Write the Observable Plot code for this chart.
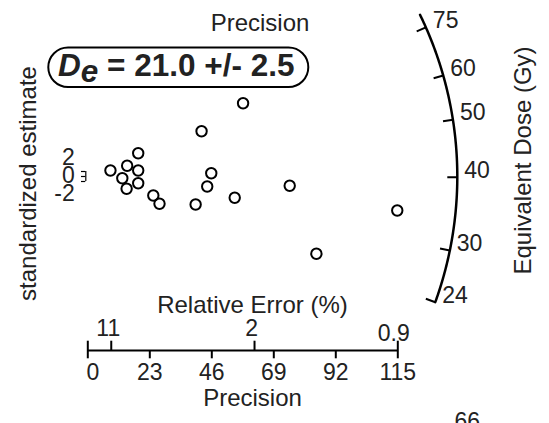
<!DOCTYPE html>
<html><head><meta charset="utf-8">
<script src="https://cdn.jsdelivr.net/npm/d3@7"></script>
<script src="https://cdn.jsdelivr.net/npm/@observablehq/plot@0.6"></script>
<style>
html,body{margin:0;padding:0;background:#fff;}
#chart{width:549px;height:423px;overflow:hidden;}
</style></head><body><div id="chart"></div>
<script>
// ---------- data ----------
const precision   = [57.6, 42.2, 18.7, 14.6, 8.4, 18.7, 12.8, 18.7, 14.4, 24.3, 26.6, 40.0, 45.8, 44.3, 54.5, 74.9, 114.8, 84.8];
const stdEstimate = [29.3, 18.1, 9.3, 4.3, 2.4, 2.4, -0.7, -2.7, -4.9, -7.6, -10.9, -11.2, 1.3, -4.0, -8.5, -3.7, -13.6, -30.9];
const precisionTicks = [0, 23, 46, 69, 92, 115];
const relErrTickPrecision = [8.7, 61.85, 115];
const relErrLabels = ["11", "2", "0.9"];
const stdTicks = [-2, 0, 2];
const doseTicks = [24, 30, 40, 50, 60, 75];
const doseArcLimits = [24, 80];
const centralDose = 21.0;
const centralDoseError = 2.5;

// ---------- layout ----------
const W = 549, H = 423;
const M = {left: 87.3, right: 151.7, top: 0, bottom: 73};
const xDomain = d3.extent(precisionTicks);
const yDomain = [-69.6, 70.4];
const sx = (W - M.left - M.right) / (xDomain[1] - xDomain[0]);
const sy = (H - M.top - M.bottom) / (yDomain[1] - yDomain[0]);
const arcRadius = 369.5, zSlope = 0.7047, zCentre = Math.log(40.1);
function arcPt(v, r) {
  const t = Math.atan(zSlope * (Math.log(v) - zCentre));
  return {x: r * Math.cos(t) / sx, y: r * Math.sin(t) / sy};
}
const yBase = yDomain[0];
const points = precision.map((p, i) => ({x: p, y: stdEstimate[i]}));
const lnA = Math.log(doseArcLimits[0]), lnB = Math.log(doseArcLimits[1]);
const arcLine = d3.range(201).map(i => arcPt(Math.exp(lnA + (lnB - lnA) * i / 200), arcRadius));
const FS = 23, FT = 24, TXT = "#222";
const upTicks = [xDomain[0], ...relErrTickPrecision];

const chart = Plot.plot({
  width: W, height: H,
  marginLeft: M.left, marginRight: M.right, marginTop: M.top, marginBottom: M.bottom,
  x: {domain: xDomain, axis: null},
  y: {domain: yDomain, axis: null},
  style: {fontFamily: "'Liberation Sans', Arial, sans-serif", fontSize: FS + "px", background: "#fff", overflow: "visible"},
  marks: [
    // data points
    Plot.dot(points, {x: "x", y: "y", r: 5.2, stroke: "#000", strokeWidth: 2, fill: "none"}),
    // standardized estimate axis
    Plot.ruleX([xDomain[0]], {y1: d3.min(stdTicks), y2: d3.max(stdTicks), dx: -2, stroke: "#000", strokeWidth: 1.2}),
    Plot.ruleY(stdTicks, {y: d => d, x1: -1.6, x2: 0, dx: -2, stroke: "#000", strokeWidth: 1.2}),
    Plot.text(stdTicks, {x: xDomain[0], y: d => d * 3.6, text: d => String(d), textAnchor: "end", lineAnchor: "middle", dx: -13, dy: -1.2, fill: TXT, fontSize: FS}),
    // dose arc
    Plot.line(arcLine, {x: "x", y: "y", stroke: "#000", strokeWidth: 2.5}),
    Plot.link(doseTicks, {x1: v => arcPt(v, arcRadius).x, y1: v => arcPt(v, arcRadius).y,
                          x2: v => arcPt(v, arcRadius - 10).x, y2: v => arcPt(v, arcRadius - 10).y,
                          stroke: "#000", strokeWidth: 2}),
    Plot.text(doseTicks, {x: v => arcPt(v, arcRadius).x, y: v => arcPt(v, arcRadius).y, text: v => String(v),
                          textAnchor: "start", lineAnchor: "middle", dx: 7, dy: -7, fill: TXT, fontSize: FS}),
    // precision axis
    Plot.ruleY([yBase], {x1: xDomain[0], x2: xDomain[1], stroke: "#000", strokeWidth: 2}),
    Plot.ruleX(precisionTicks, {x: d => d, y1: yBase, y2: yBase - 8.3 / sy, stroke: "#000", strokeWidth: 2}),
    Plot.ruleX(upTicks, {x: d => d, y1: yBase, y2: yBase + 9.3 / sy, stroke: "#000", strokeWidth: 2}),
    Plot.text(precisionTicks.slice(0, 1), {x: d => d, y: yBase, text: d => String(d), lineAnchor: "bottom", dx: 5, dy: 29.3, fill: TXT, fontSize: FS}),
    Plot.text(precisionTicks.slice(1), {x: d => d, y: yBase, text: d => String(d), lineAnchor: "bottom", dy: 29.3, fill: TXT, fontSize: FS}),
    Plot.text(relErrTickPrecision.slice(0, 2), {x: d => d, y: yBase, text: (d, i) => relErrLabels[i], lineAnchor: "bottom", dx: -3, dy: -14.5, fill: TXT, fontSize: FS}),
    Plot.text(relErrTickPrecision.slice(2), {x: d => d, y: yBase, text: (d, i) => relErrLabels[i + 2], lineAnchor: "bottom", dx: -4, dy: -10, fill: TXT, fontSize: FS}),
    // titles
    Plot.text(["Relative Error (%)"], {frameAnchor: "bottom", textAnchor: "middle", lineAnchor: "bottom", dx: 9.7, dy: -37.5, fill: TXT, fontSize: FT}),
    Plot.text(["Precision"], {frameAnchor: "bottom", textAnchor: "middle", lineAnchor: "bottom", dx: 9.7, dy: 55, fill: TXT, fontSize: FT}),
    Plot.text(["Precision"], {frameAnchor: "top", textAnchor: "middle", lineAnchor: "bottom", dx: 17.2, dy: 30, fill: TXT, fontSize: FT}),
    Plot.text(["standardized estimate"], {frameAnchor: "left", textAnchor: "middle", rotate: -90, lineAnchor: "bottom", dx: -52.3, dy: 8, fill: TXT, fontSize: FT}),
    Plot.text(["Equivalent Dose (Gy)"], {frameAnchor: "right", textAnchor: "middle", rotate: -90, lineAnchor: "bottom", dx: 132.7, dy: -15, fill: TXT, fontSize: FT}),
    Plot.text(["66"], {frameAnchor: "bottom-right", textAnchor: "start", lineAnchor: "bottom", dx: 56.7, dy: 78.5, fill: TXT, fontSize: FS})
  ]
});
document.getElementById("chart").appendChild(chart);

// central-dose annotation box
const svg = d3.select(chart);
const g = svg.append("g");
g.append("rect").attr("x", 48.3).attr("y", 47.5).attr("width", 260).attr("height", 39.5)
  .attr("rx", 19.75).attr("fill", "none").attr("stroke", "#000").attr("stroke-width", 2);
const t = g.append("text").attr("x", 58).attr("y", 75.5).attr("text-anchor", "start")
  .attr("font-family", "'Liberation Sans', Arial, sans-serif").attr("font-size", 31.5)
  .attr("font-weight", "bold").attr("fill", TXT);
t.append("tspan").attr("font-style", "italic").text("D");
t.append("tspan").attr("font-style", "italic").attr("dy", 6).text("e");
t.append("tspan").attr("dy", -6).text(" = " + centralDose.toFixed(1) + " +/- " + centralDoseError.toFixed(1));
</script></body></html>
